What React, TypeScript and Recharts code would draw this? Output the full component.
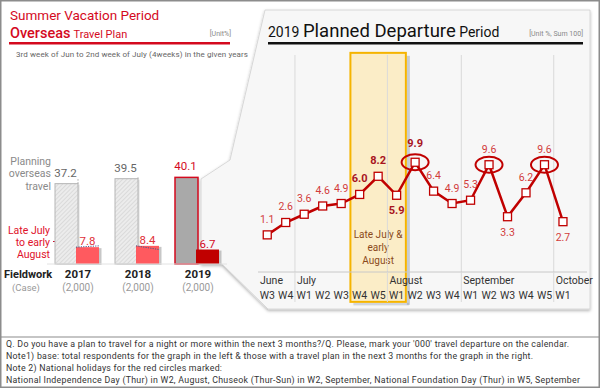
import React from "react";
import {
  BarChart,
  Bar,
  XAxis,
  YAxis,
  LineChart,
  Line,
  ReferenceArea,
  ReferenceLine,
} from "recharts";

const FONT = "Roboto, 'Noto Sans', sans-serif";
const RED = "#c00000";

// left: summer vacation overseas travel plan (%)
const years = ["2017", "2018", "2019"];
const planningOverseas = [37.2, 39.5, 40.1];
const lateJulyEarlyAug = [7.8, 8.4, 6.7];
const fieldworkCases = ["(2,000)", "(2,000)", "(2,000)"];
const highlightYear = "2019";

// right: 2019 planned departure week (%)
const weekLabels = [
  "W3", "W4",
  "W1", "W2", "W3", "W4", "W5",
  "W1", "W2", "W3", "W4",
  "W1", "W2", "W3", "W4", "W5",
  "W1",
];
const departureShare = [
  1.1, 2.6, 3.6, 4.6, 4.9, 6.0, 8.2, 5.9, 9.9, 6.4, 4.9, 5.3, 9.6, 3.3, 6.2, 9.6, 2.7,
];
const monthNames = ["June", "July", "August", "September", "October"];
const monthFirstWeek = [0, 2, 7, 11, 16];
const holidayWeeks = [8, 12, 15];
const peakWeeks = [5, 6, 7];
const boldWeeks = [5, 6, 7, 8];
const labelBelowWeeks = [7, 13, 16];

const notes = [
  "Q. Do you have a plan to travel for a night or more within the next 3 months?/Q. Please, mark your '000' travel departure on the calendar.",
  "Note1) base: total respondents for the graph in the left & those with a travel plan in the next 3 months for the graph in the right.",
  "Note 2) National holidays for the red circles marked:",
  "National Independence Day (Thur) in W2, August, Chuseok (Thur-Sun) in W2, September,  National Foundation Day (Thur) in W5, September",
];

const yearData = years.map((year, i) => ({
  year,
  plan: planningOverseas[i],
  late: lateJulyEarlyAug[i],
}));

const weekData = weekLabels.map((week, i) => ({
  idx: i,
  week,
  share: departureShare[i],
}));

const monthBounds = monthFirstWeek.map((w) => w - 0.5);
const weekTicks = [...weekLabels.map((_, i) => i), ...monthBounds].sort((a, b) => a - b);

function PlanBar(props: any) {
  const { x, y, width, height, index, background, payload } = props;
  const hi = payload.year === highlightYear;
  const next = planningOverseas[index + 1];
  const step = background ? background.width : 60;
  const perUnit = height / payload.plan;
  return (
    <g>
      <rect x={x + 1.5} y={y + 1} width={width} height={height} fill="#bbb" opacity={0.5} />
      <rect
        x={x}
        y={y}
        width={width}
        height={height}
        fill={hi ? "#a9a9a9" : "url(#hatch)"}
        stroke={hi ? "#d40a1e" : "#b5b5b5"}
        strokeWidth={hi ? 1.5 : 1}
      />
      {next !== undefined && (
        <line
          x1={x + width}
          y1={y}
          x2={x + step}
          y2={y + height - next * perUnit}
          stroke="#aaa"
          strokeDasharray="1.5 1.5"
        />
      )}
      <text
        x={x + width / 2 - 1}
        y={y - 7}
        textAnchor="middle"
        fontSize={11.5}
        fill={hi ? "#d40a1e" : "#666"}
        fontFamily={FONT}
      >
        {payload.plan.toFixed(1)}
      </text>
    </g>
  );
}

function LateBar(props: any) {
  const { x, y, width, height, index, background, payload } = props;
  const hi = payload.year === highlightYear;
  const next = lateJulyEarlyAug[index + 1];
  const step = background ? background.width : 60;
  const perUnit = height / payload.late;
  return (
    <g>
      <rect x={x + 2.5} y={y + 1} width={width} height={height} fill="#999" opacity={0.55} />
      <rect x={x} y={y} width={width} height={height} fill={hi ? "#c00000" : "#ff5a5f"} />
      {next !== undefined && (
        <line
          x1={x}
          y1={y}
          x2={x + step}
          y2={y + height - next * perUnit}
          stroke="#4a5a8a"
          strokeDasharray="1.2 1.2"
        />
      )}
      <text
        x={x + width / 2}
        y={y - 2}
        textAnchor="middle"
        fontSize={11.5}
        fill={hi ? "#d40a1e" : "#e0303a"}
        fontFamily={FONT}
      >
        {payload.late.toFixed(1)}
      </text>
    </g>
  );
}

function YearTick(props: any) {
  const { x, y, payload, index } = props;
  return (
    <g fontFamily={FONT}>
      <text x={x + 1} y={y + 14} textAnchor="middle" fontSize={11.5} fontWeight={700} fill="#222">
        {payload.value}
      </text>
      <text x={x + 1} y={y + 27} textAnchor="middle" fontSize={10} fill="#999">
        {fieldworkCases[index]}
      </text>
    </g>
  );
}

function WeekTick(props: any) {
  const { x, y, payload } = props;
  const v = payload.value;
  if (Number.isInteger(v)) {
    return (
      <text x={x} y={y + 27} textAnchor="middle" fontSize={10.5} fill="#333" fontFamily={FONT}>
        {weekLabels[v]}
      </text>
    );
  }
  const m = monthBounds.indexOf(v);
  return (
    <g>
      {m > 0 && <line x1={x} x2={x} y1={y} y2={y + 30} stroke="#dadada" />}
      <text x={x + 2} y={y + 12} fontSize={10.5} fill="#333" fontFamily={FONT}>
        {monthNames[m]}
      </text>
    </g>
  );
}

function PeakBox(props: any) {
  const { x, y, width, height } = props;
  const cx = x + width / 2;
  const b = y + height;
  return (
    <g>
      <rect x={x + width + 1} y={y + 3} width={3} height={height} fill="#8a96a8" opacity={0.45} />
      <rect x={x + 3} y={b + 1} width={width} height={2.5} fill="#8a96a8" opacity={0.35} />
      <rect
        x={x}
        y={y}
        width={width}
        height={height}
        fill="#ffe6a0"
        fillOpacity={0.55}
        stroke="#f5b400"
        strokeWidth={2}
      />
      <g fontFamily={FONT} fontSize={10} fill="#8a4a1a" textAnchor="middle">
        <text x={cx} y={b - 64}>Late July &amp;</text>
        <text x={cx} y={b - 51}>early</text>
        <text x={cx} y={b - 38}>August</text>
      </g>
    </g>
  );
}

function WeekDot(props: any) {
  const { cx, cy, index, payload } = props;
  const below = labelBelowWeeks.includes(index);
  const bold = boldWeeks.includes(index);
  const holiday = holidayWeeks.includes(index);
  const dy = below ? 19 : holiday && bold ? -15 : -12;
  return (
    <g key={index}>
      {holiday && (
        <ellipse cx={cx} cy={cy} rx={13.5} ry={8} fill="none" stroke={RED} strokeWidth={2} />
      )}
      <rect x={cx - 4} y={cy - 4} width={8} height={8} fill="#fff" stroke={RED} strokeWidth={1.3} />
      <text
        x={cx}
        y={cy + dy}
        textAnchor="middle"
        fontSize={bold ? 11 : 10.5}
        fontWeight={bold ? 700 : 400}
        fill={bold ? "#a8141e" : "#d23c3c"}
        fontFamily={FONT}
      >
        {payload.share.toFixed(1)}
      </text>
    </g>
  );
}

export default function App() {
  return (
    <div style={{ position: "absolute", left: 0, top: 0, width: 600, height: 388, background: "#fff" }}>
      <svg width={600} height={388} style={{ position: "absolute", left: 0, top: 0 }} fontFamily={FONT}>
        <defs>
          <pattern id="hatch" width="3" height="3" patternUnits="userSpaceOnUse" patternTransform="rotate(45)">
            <rect width="3" height="3" fill="#ececec" />
            <line x1="0" y1="0" x2="0" y2="3" stroke="#c9c9c9" strokeWidth="1" />
          </pattern>
          <filter id="panelShadow" x="-5%" y="-5%" width="110%" height="110%">
            <feDropShadow dx="0" dy="1.5" stdDeviation="1.5" floodColor="#000" floodOpacity="0.3" />
          </filter>
        </defs>
        <rect x={0.75} y={0.75} width={598.5} height={386.5} fill="#fff" stroke="#8c8c8c" strokeWidth={1.5} />
        <line x1={0} x2={600} y1={337} y2={337} stroke="#8c8c8c" strokeWidth={1.2} />

        <polygon
          points="230,160 265,10 590,10 590,309 268,309 222,264 201,264 201,179"
          fill="#f7f7f7"
          stroke="#d0d0d0"
          strokeWidth={0.8}
          filter="url(#panelShadow)"
        />

        <text x={10} y={20} fontSize={13.5} fill="#d40a1e">Summer Vacation Period</text>
        <text x={10} y={38} fill="#d40a1e">
          <tspan fontSize={14.5} fontWeight={500}>Overseas</tspan>
          <tspan fontSize={11} dx={3}>Travel Plan</tspan>
        </text>
        <text x={231} y={36} fontSize={7} fill="#888" textAnchor="end">[Unit%]</text>
        <rect x={9} y={42} width={221} height={2.5} fill="#d40a1e" />
        <text x={16} y={57} fontSize={8} fill="#666" textLength={232}>
          3rd week of Jun to 2nd week of July (4weeks) in the given years
        </text>

        <text x={268} y={36.5} fill="#111">
          <tspan fontSize={14}>2019 </tspan>
          <tspan fontSize={18.5}>Planned Departure</tspan>
          <tspan fontSize={14}> Period</tspan>
        </text>
        <text x={583} y={36} fontSize={7} fill="#888" textAnchor="end">[Unit %, Sum 100]</text>
        <rect x={268} y={42} width={315} height={2.5} fill="#111" />

        <g fontSize={10.5} fill="#8a8a8a" textAnchor="end">
          <text x={51} y={165}>Planning</text>
          <text x={51} y={177}>overseas</text>
          <text x={51} y={190}>travel</text>
        </g>
        <g fontSize={10.5} fill="#e0102a" textAnchor="end">
          <text x={50} y={234}>Late July</text>
          <text x={50} y={246}>to early</text>
          <text x={50} y={258}>August</text>
        </g>
        <line x1={53} x2={69} y1={241.5} y2={241.5} stroke="#c8102e" strokeWidth={1} />
        <polygon points="68,238.5 74,241.5 68,244.5" fill="#c8102e" />
        <text x={4} y={278} fontSize={11} fontWeight={700} fill="#222">Fieldwork</text>
        <text x={26} y={291} fontSize={9.5} fill="#999" textAnchor="middle">(Case)</text>

        <g fontSize={8.8} fill="#333">
          <text x={6} y={347} textLength={563}>{notes[0]}</text>
          <text x={6} y={359} textLength={527}>{notes[1]}</text>
          <text x={6} y={371} textLength={216}>{notes[2]}</text>
          <text x={6} y={383} textLength={574}>{notes[3]}</text>
        </g>
      </svg>

      <div style={{ position: "absolute", left: 0, top: 0 }}>
        <BarChart
          width={600}
          height={388}
          data={yearData}
          margin={{ top: 156, right: 373, bottom: 94, left: 47 }}
          barGap={-2}
          barCategoryGap={0}
        >
          <XAxis
            dataKey="year"
            height={30}
            tickSize={0}
            tickMargin={0}
            tickLine={false}
            axisLine={{ stroke: "#e2e2e2" }}
            interval={0}
            tick={<YearTick />}
          />
          <YAxis hide domain={[0, 50]} />
          <Bar dataKey="plan" barSize={23} shape={PlanBar} isAnimationActive={false} />
          <Bar dataKey="late" barSize={23} shape={LateBar} isAnimationActive={false} />
        </BarChart>
      </div>

      <div style={{ position: "absolute", left: 0, top: 0 }}>
        <LineChart
          width={600}
          height={388}
          data={weekData}
          margin={{ top: 55, right: 13, bottom: 86, left: 258 }}
        >
          <XAxis
            type="number"
            dataKey="idx"
            domain={[-0.5, 17.3]}
            ticks={weekTicks}
            interval={0}
            height={30}
            tickSize={0}
            tickMargin={0}
            tickLine={false}
            axisLine={{ stroke: "#c8c8c8" }}
            tick={<WeekTick />}
            allowDataOverflow
          />
          <YAxis hide domain={[-3.4, 22.9]} allowDataOverflow />
          <ReferenceArea
            x1={peakWeeks[0] - 0.5}
            x2={peakWeeks[peakWeeks.length - 1] + 0.5}
            y1={-7.02}
            y2={23.16}
            ifOverflow="visible"
            shape={<PeakBox />}
          />
          {monthBounds.slice(1).map((b) => (
            <ReferenceLine key={b} x={b} stroke="#dadada" />
          ))}
          <Line
            type="linear"
            dataKey="share"
            stroke={RED}
            strokeWidth={2.5}
            dot={(p: any) => <WeekDot key={p.index} {...p} />}
            activeDot={false}
            isAnimationActive={false}
          />
        </LineChart>
      </div>
    </div>
  );
}
